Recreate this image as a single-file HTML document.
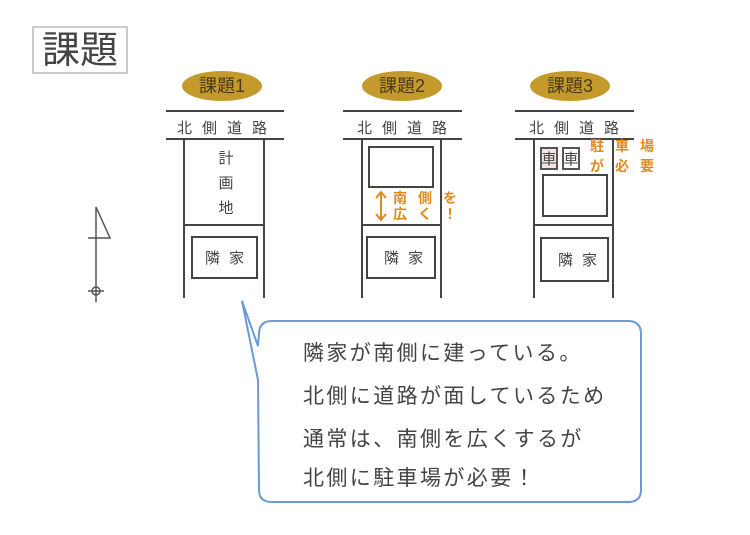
<!DOCTYPE html>
<html><head><meta charset="utf-8"><style>
html,body{margin:0;padding:0;background:#fff;}
svg text{font-family:"Liberation Sans","Noto Sans CJK JP",sans-serif;}
</style></head><body>
<svg width="750" height="530" viewBox="0 0 750 530" xmlns="http://www.w3.org/2000/svg">
<rect x="33" y="27" width="94" height="46" fill="#fff" stroke="#bbb" stroke-width="1.5"/>
<text x="80" y="63" font-size="38" fill="#444" text-anchor="middle">課題</text>

<g fill="#c49a2c">
<ellipse cx="222" cy="86" rx="40" ry="15"/>
<ellipse cx="402" cy="86" rx="40" ry="15"/>
<ellipse cx="570" cy="86" rx="40" ry="15"/>
</g>
<g font-size="18" fill="#4a3a1a" text-anchor="middle">
<text x="222" y="92">課題1</text>
<text x="402" y="92">課題2</text>
<text x="570" y="92">課題3</text>
</g>

<g stroke="#444" stroke-width="2" fill="none">
<line x1="166" y1="111" x2="284" y2="111"/><line x1="166" y1="139" x2="284" y2="139"/>
<line x1="184" y1="139" x2="184" y2="298"/><line x1="264" y1="139" x2="264" y2="298"/>
<line x1="184" y1="225" x2="264" y2="225"/>
<rect x="192" y="237" width="65" height="41"/>
<line x1="343" y1="111" x2="462" y2="111"/><line x1="343" y1="139" x2="462" y2="139"/>
<line x1="362" y1="139" x2="362" y2="298"/><line x1="441" y1="139" x2="441" y2="298"/>
<line x1="362" y1="225" x2="441" y2="225"/>
<rect x="369" y="147" width="64" height="40"/>
<rect x="367" y="237" width="68" height="41"/>
<line x1="515" y1="111" x2="634" y2="111"/><line x1="515" y1="139" x2="634" y2="139"/>
<line x1="534" y1="139" x2="534" y2="298"/><line x1="613" y1="139" x2="613" y2="298"/>
<line x1="534" y1="225" x2="613" y2="225"/>
<rect x="543" y="175" width="64" height="41"/>
<rect x="541" y="238" width="67" height="43"/>
</g>
<rect x="541" y="148" width="16" height="21" fill="#f6e4e4" stroke="#555" stroke-width="2"/>
<rect x="563" y="148" width="16" height="21" fill="#fff" stroke="#555" stroke-width="2"/>

<g font-size="15" fill="#444" text-anchor="middle">
<text x="227" y="133" letter-spacing="10">北側道路</text>
<text x="407" y="133" letter-spacing="10">北側道路</text>
<text x="579" y="133" letter-spacing="10">北側道路</text>
<text x="226" y="163">計</text><text x="226" y="188">画</text><text x="226" y="213">地</text>
<text x="229" y="263" letter-spacing="9">隣家</text>
<text x="408" y="263" letter-spacing="9">隣家</text>
<text x="582" y="265" letter-spacing="9">隣家</text>
<text x="549" y="164">車</text><text x="571" y="164">車</text>
</g>

<g stroke="#e08a1e" stroke-width="2" fill="none">
<line x1="381" y1="193" x2="381" y2="219"/>
<polyline points="376,198 381,192 386,198"/>
<polyline points="376,214 381,220 386,214"/>
</g>
<g font-size="14" fill="#e08a1e" font-weight="bold">
<text x="393" y="203" letter-spacing="11">南側を</text>
<text x="393" y="219" letter-spacing="11">広く！</text>
<text x="590" y="151" letter-spacing="11">駐車場</text>
<text x="590" y="171" letter-spacing="11">が必要</text>
</g>

<g stroke="#555" stroke-width="1.5" fill="none">
<line x1="96" y1="207" x2="96" y2="302"/>
<polyline points="96,207 110,238 88,238"/>
<circle cx="96" cy="291" r="4"/>
<line x1="88" y1="291" x2="104" y2="291"/>
</g>

<path d="M272,321 L628,321 Q641,321 641,334 L641,490 Q641,502 628,502 L272,502 Q259,502 259,490 L258,380 L242,301 L258,346 L259,334 Q259,321 272,321 Z" fill="#fff" stroke="#6a9bd6" stroke-width="2"/>
<g font-size="21" fill="#444" letter-spacing="2.4">
<text x="303" y="360">隣家が南側に建っている。</text>
<text x="303" y="403">北側に道路が面しているため</text>
<text x="303" y="446">通常は、南側を広くするが</text>
<text x="303" y="485">北側に駐車場が必要！</text>
</g>
</svg>
</body></html>
